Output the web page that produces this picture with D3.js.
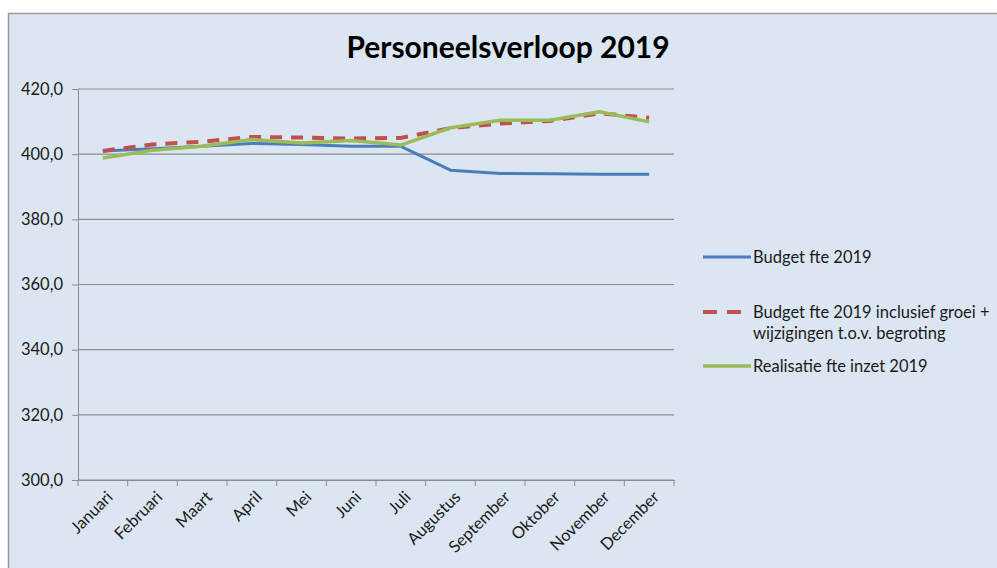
<!DOCTYPE html>
<html>
<head>
<meta charset="utf-8">
<script src="https://cdn.jsdelivr.net/npm/d3@7"></script>
<style>
  body { margin: 0; background: #fff; }
  svg { display: block; }
  text { font-family: Lato, "Open Sans", sans-serif; fill: #1a1a1a; }
</style>
</head>
<body>
<div id="chart"></div>
<script>
// data
var months = ["Januari", "Februari", "Maart", "April", "Mei", "Juni", "Juli", "Augustus", "September", "Oktober", "November", "December"];
var budget = [401.0, 401.7, 402.4, 403.3, 403.0, 402.4, 402.4, 395.1, 394.1, 394.0, 393.8, 393.8];
var budgetGroei = [401.0, 403.0, 403.8, 405.3, 405.1, 404.8, 405.0, 408.0, 409.4, 410.2, 412.5, 411.2];
var realisatie = [398.8, 401.2, 402.4, 404.5, 403.4, 404.2, 402.8, 408.1, 410.4, 410.4, 413.0, 409.9];
var yTicks = [300, 320, 340, 360, 380, 400, 420];

var W = 997, H = 568;
var margin = {top: 89, left: 78};
var plotW = 596, plotH = 391;

var svg = d3.select("#chart").append("svg")
  .attr("width", W)
  .attr("height", H);

// chart background + frame
svg.append("rect")
  .attr("x", 8.5).attr("y", 13.5)
  .attr("width", W).attr("height", H)
  .attr("fill", "#dce6f2")
  .attr("stroke", "#9a9a9a")
  .attr("stroke-width", 1.5);

svg.append("text")
  .attr("x", 508).attr("y", 58)
  .attr("text-anchor", "middle")
  .style("font-size", "30px")
  .style("font-weight", "bold")
  .style("fill", "#000")
  .text("Personeelsverloop 2019");

var g = svg.append("g")
  .attr("transform", "translate(" + margin.left + "," + margin.top + ")");

var x = d3.scaleBand().domain(months).range([0, plotW]);
var y = d3.scaleLinear().domain([300, 420]).range([plotH, 0]);

// gridlines
g.selectAll(".grid").data(yTicks).enter().append("line")
  .attr("x1", 0).attr("x2", plotW)
  .attr("y1", d => y(d)).attr("y2", d => y(d))
  .attr("stroke", "#8c8c8c").attr("stroke-width", 1.2);

// y axis
var yAxis = d3.axisLeft(y).tickValues(yTicks).tickSize(6).tickPadding(9)
  .tickFormat(d => d3.format(".1f")(d).replace(".", ","));
var ya = g.append("g").call(yAxis);
ya.select(".domain").attr("stroke", "#8c8c8c");
ya.selectAll(".tick line").attr("stroke", "#8c8c8c");
ya.selectAll("text").style("font-size", "16.5px").attr("fill", "#1a1a1a");

// x axis
var xAxis = d3.axisBottom(x).tickSize(0).tickPadding(0);
var xa = g.append("g").attr("transform", "translate(0," + plotH + ")").call(xAxis);
xa.select(".domain").attr("stroke", "#8c8c8c").attr("stroke-width", 1.2);
xa.selectAll(".tick line").remove();
xa.selectAll("text")
  .style("font-size", "16.5px")
  .attr("fill", "#1a1a1a")
  .attr("text-anchor", "end")
  .attr("dy", "0.35em")
  .attr("transform", "translate(7,14) rotate(-45)");
// tick marks between categories
g.selectAll(".xtick").data(d3.range(months.length + 1)).enter().append("line")
  .attr("x1", d => d * x.step()).attr("x2", d => d * x.step())
  .attr("y1", plotH).attr("y2", plotH + 6)
  .attr("stroke", "#8c8c8c");

var line = d3.line()
  .x((d, i) => x(months[i]) + x.bandwidth() / 2)
  .y(d => y(d));

var series = [
  {name: "Budget fte 2019", values: budget, color: "#4a7ebb", width: 3, dash: null},
  {name: "Budget fte 2019 inclusief groei +", name2: "wijzigingen t.o.v. begroting", values: budgetGroei, color: "#c0504d", width: 4, dash: "12,9"},
  {name: "Realisatie fte inzet 2019", values: realisatie, color: "#9bbb59", width: 3.5, dash: null}
];

g.selectAll(".series").data(series).enter().append("path")
  .attr("d", d => line(d.values))
  .attr("fill", "none")
  .attr("stroke", d => d.color)
  .attr("stroke-width", d => d.width)
  .attr("stroke-dasharray", d => d.dash)
  .attr("stroke-linejoin", "round");

// legend
var legendY = [257, 312, 366];
var leg = svg.selectAll(".leg").data(series).enter().append("g")
  .attr("transform", (d, i) => "translate(703," + legendY[i] + ")");
leg.append("line")
  .attr("x1", 0).attr("x2", 48)
  .attr("stroke", d => d.color)
  .attr("stroke-width", d => d.width)
  .attr("stroke-dasharray", d => d.dash ? "14,10" : null);
leg.append("text")
  .attr("x", 50).attr("dy", "0.35em")
  .style("font-size", "16.5px")
  .text(d => d.name);
leg.filter(d => d.name2).append("text")
  .attr("x", 50).attr("y", 21).attr("dy", "0.35em")
  .style("font-size", "16.5px")
  .text(d => d.name2);
</script>
</body>
</html>
